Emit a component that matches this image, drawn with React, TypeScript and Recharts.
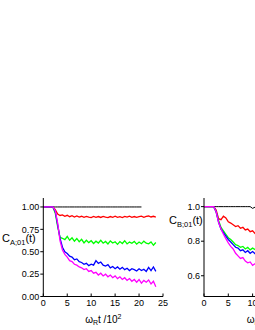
import { LineChart, Line, XAxis, YAxis } from 'recharts';

// time axis, omega_R t / 10^2
const times = [
  0, 0.5, 1, 1.5, 2, 2.5, 3, 3.5,
  4, 4.5, 5, 5.5, 6, 6.5, 7, 7.5,
  8, 8.5, 9, 9.5, 10, 10.5, 11, 11.5,
  12, 12.5, 13, 13.5, 14, 14.5, 15, 15.5,
  16, 16.5, 17, 17.5, 18, 18.5, 19, 19.5,
  20, 20.5, 21, 21.5, 22, 22.5, 23, 23.5,
];

// C_A;01(t)
const blackA = [
  1, 1, 1, 1, 1, 1, 1, 1,
  1, 1, 1, 1, 1, 1, 1, 1,
  1, 1, 1, 1, 1, 1, 1, 1,
  1, 1, 1, 1, 1, 1, 1, 1,
  1, 1, 1, 1, 1, 1, 1, 1,
  1, 1, null, null, null, null, null, null,
];
const redA = [
  1, 1, 1, 1, 1, 0.97, 0.92, 0.905,
  0.912, 0.896, 0.907, 0.891, 0.902, 0.888, 0.899, 0.886,
  0.896, 0.884, 0.895, 0.887, 0.882, 0.894, 0.885, 0.893,
  0.883, 0.895, 0.886, 0.881, 0.893, 0.885, 0.896, 0.884,
  0.892, 0.882, 0.894, 0.886, 0.897, 0.885, 0.893, 0.884,
  0.891, 0.897, 0.885, 0.894, 0.899, 0.888, 0.896, 0.887,
];
const greenA = [
  1, 1, 1, 1, 1, 0.93, 0.78, 0.66,
  0.65, 0.635, 0.67, 0.628, 0.655, 0.618, 0.648, 0.612,
  0.638, 0.598, 0.628, 0.602, 0.623, 0.592, 0.618, 0.597,
  0.628, 0.595, 0.615, 0.587, 0.621, 0.597, 0.611, 0.582,
  0.613, 0.592, 0.623, 0.587, 0.608, 0.595, 0.615, 0.585,
  0.609, 0.59, 0.618, 0.595, 0.588, 0.61, 0.572, 0.603,
];
const blueA = [
  1, 1, 1, 1, 1, 0.95, 0.8, 0.65,
  0.55, 0.5, 0.48, 0.45, 0.44, 0.41, 0.42, 0.39,
  0.38, 0.36, 0.37, 0.345, 0.36, 0.35, 0.4, 0.37,
  0.385, 0.35, 0.34, 0.355, 0.32, 0.335, 0.31, 0.33,
  0.305, 0.325, 0.3, 0.315, 0.29, 0.31, 0.3, 0.285,
  0.31, 0.29, 0.305, 0.28, 0.325, 0.29, 0.33, 0.28,
];
const magentaA = [
  1, 1, 1, 1, 1, 0.96, 0.82, 0.62,
  0.52, 0.47, 0.44, 0.4, 0.39, 0.36, 0.35, 0.33,
  0.32, 0.3, 0.31, 0.28, 0.29, 0.26, 0.27, 0.24,
  0.26, 0.23, 0.25, 0.22, 0.24, 0.21, 0.23, 0.2,
  0.22, 0.19, 0.21, 0.18, 0.2, 0.17, 0.19, 0.16,
  0.19, 0.15, 0.18, 0.16, 0.185, 0.14, 0.17, 0.11,
];

// C_B;01(t)
const blackB = [
  1, 1, 1, 1, 1, 1, 1, 1,
  1, 1, 1, 1, 1, 1, 1, 1,
  1, 1, 1, 1, 0.99, 0.997, 0.995, 0.993,
  0.996, 0.994, 0.992, 0.995, 0.993, 0.99, 0.994, 0.992,
  0.989, 0.993, 0.991, 0.988, 0.992, 0.99, 0.987, 0.991,
  0.989, 0.986, null, null, null, null, null, null,
];
const redB = [
  1, 1, 1, 1, 1, 0.98, 0.93, 0.925,
  0.945, 0.935, 0.912, 0.905, 0.895, 0.885, 0.89, 0.875,
  0.88, 0.865, 0.87, 0.855, 0.86, 0.845, 0.852, 0.843,
  0.848, 0.838, 0.845, 0.835, 0.84, 0.832, 0.838, 0.828,
  0.834, 0.826, 0.831, 0.822, 0.828, 0.82, 0.826, 0.818,
  0.823, 0.815, 0.821, 0.813, 0.819, 0.811, 0.816, 0.809,
];
const greenB = [
  1, 1, 1, 1, 1, 0.97, 0.92, 0.88,
  0.86, 0.84, 0.82, 0.81, 0.795, 0.78, 0.775, 0.765,
  0.77, 0.755, 0.765, 0.75, 0.76, 0.752, 0.758, 0.746,
  0.755, 0.743, 0.752, 0.74, 0.748, 0.738, 0.746, 0.736,
  0.744, 0.734, 0.742, 0.732, 0.74, 0.73, 0.738, 0.728,
  0.736, 0.727, 0.734, 0.725, 0.733, 0.724, 0.731, 0.722,
];
const blueB = [
  1, 1, 1, 1, 1, 0.97, 0.91, 0.87,
  0.85, 0.83, 0.81, 0.795, 0.78, 0.765, 0.76, 0.745,
  0.75, 0.735, 0.745, 0.73, 0.74, 0.728, 0.735, 0.722,
  0.73, 0.718, 0.726, 0.714, 0.722, 0.71, 0.718, 0.707,
  0.715, 0.704, 0.712, 0.701, 0.709, 0.698, 0.706, 0.695,
  0.703, 0.692, 0.7, 0.69, 0.698, 0.688, 0.695, 0.685,
];
const magentaB = [
  1, 1, 1, 1, 1, 0.97, 0.91, 0.87,
  0.84, 0.815, 0.79, 0.77, 0.755, 0.73, 0.715, 0.7,
  0.705, 0.685, 0.675, 0.68, 0.66, 0.67, 0.655, 0.662,
  0.648, 0.655, 0.642, 0.65, 0.636, 0.644, 0.63, 0.638,
  0.625, 0.632, 0.62, 0.627, 0.615, 0.622, 0.61, 0.617,
  0.606, 0.613, 0.601, 0.608, 0.597, 0.604, 0.592, 0.598,
];

const xTicks = [0, 5, 10, 15, 20, 25];
const yTicksA = [0, 0.25, 0.5, 0.75, 1.0];
const yTicksB = [0.6, 0.8, 1.0];

const seriesKeys = ['black', 'red', 'green', 'blue', 'magenta'];
const seriesColors: Record<string, string> = {
  black: '#000000',
  red: '#ff0000',
  green: '#00ff00',
  blue: '#0000ff',
  magenta: '#ff00ff',
};

function buildRows(cols: Record<string, (number | null)[]>) {
  return times.map((t, i) => {
    const row: Record<string, number | null> = { t };
    for (const k of seriesKeys) row[k] = cols[k][i];
    return row;
  });
}

const rowsA = buildRows({ black: blackA, red: redA, green: greenA, blue: blueA, magenta: magentaA });
const rowsB = buildRows({ black: blackB, red: redB, green: greenB, blue: blueB, magenta: magentaB });

const FONT = '"Liberation Sans", Arial, sans-serif';
const tickStyle = { fontSize: 9, fill: '#000', fontFamily: FONT };
const axisLine = { stroke: '#000', strokeWidth: 1 };

function Panel({
  rows,
  yTicks,
  yDomain,
  digits,
  width,
  rightMargin,
  yWidth,
}: {
  rows: Record<string, number | null>[];
  yTicks: number[];
  yDomain: [number, number];
  digits: number;
  width: number;
  rightMargin: number;
  yWidth: number;
}) {
  return (
    <LineChart
      width={width}
      height={330}
      data={rows}
      margin={{ top: 198, right: rightMargin, bottom: 0, left: 0 }}
    >
      <XAxis
        dataKey="t"
        type="number"
        domain={[0, 25]}
        ticks={xTicks}
        interval={0}
        height={33.5}
        axisLine={axisLine}
        tickLine={{ stroke: '#000' }}
        tickSize={-3}
        tickMargin={6.4}
        tick={tickStyle}
      />
      <YAxis
        type="number"
        domain={yDomain}
        ticks={yTicks}
        interval={0}
        width={yWidth}
        allowDataOverflow
        axisLine={axisLine}
        tickLine={{ stroke: '#000' }}
        tickSize={3}
        tickMargin={1}
        tick={tickStyle}
        tickFormatter={(v: number) => v.toFixed(digits)}
      />
      {seriesKeys.map((k) => (
        <Line
          key={k}
          dataKey={k}
          stroke={seriesColors[k]}
          strokeWidth={k === 'black' ? 1 : 1.3}
          dot={false}
          activeDot={false}
          isAnimationActive={false}
          connectNulls={false}
        />
      ))}
    </LineChart>
  );
}

export default function App() {
  return (
    <div
      style={{
        position: 'absolute',
        left: 0,
        top: 0,
        width: 255,
        height: 330,
        overflow: 'hidden',
        background: '#fff',
      }}
    >
      <div style={{ position: 'absolute', left: 0, top: 0 }}>
        <Panel rows={rowsA} yTicks={yTicksA} yDomain={[0, 1.1]} digits={2} width={175} rightMargin={12} yWidth={43.3} />
      </div>
      <div style={{ position: 'absolute', left: 160, top: 0 }}>
        <Panel rows={rowsB} yTicks={yTicksB} yDomain={[0.48, 1.05]} digits={1} width={200} rightMargin={34.5} yWidth={44} />
      </div>
      <svg
        width={255}
        height={330}
        style={{ position: 'absolute', left: 0, top: 0, pointerEvents: 'none' }}
        fontFamily={FONT}
      >
        <text x={2} y={241.5} fontSize={11} fill="#000">
          C<tspan fontSize={7.5} dy={3}>A;01</tspan>
          <tspan fontSize={11} dy={-3}>(t)</tspan>
        </text>
        <text x={169} y={224} fontSize={11} fill="#000">
          C<tspan fontSize={7.5} dy={3}>B;01</tspan>
          <tspan fontSize={11} dy={-3}>(t)</tspan>
        </text>
        <text x={103.3} y={323} fontSize={10} fill="#000" textAnchor="middle">
          ω<tspan fontSize={7} dy={2}>R</tspan>
          <tspan fontSize={10} dy={-2}>t /10</tspan>
          <tspan fontSize={7} dy={-4}>2</tspan>
        </text>
        <text x={264.8} y={323} fontSize={10} fill="#000" textAnchor="middle">
          ω<tspan fontSize={7} dy={2}>R</tspan>
          <tspan fontSize={10} dy={-2}>t /10</tspan>
          <tspan fontSize={7} dy={-4}>2</tspan>
        </text>
      </svg>
    </div>
  );
}
